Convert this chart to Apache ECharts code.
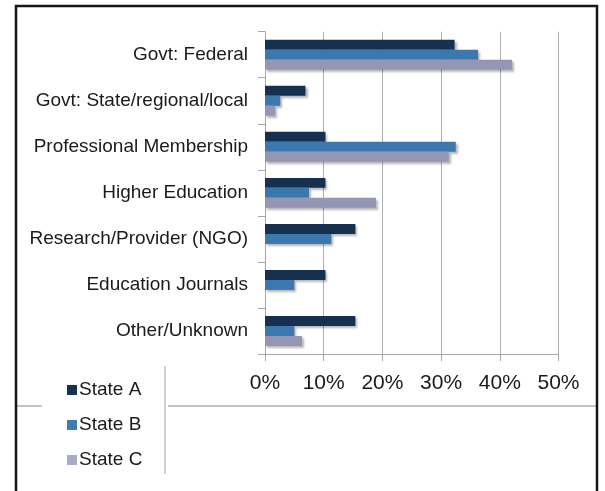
<!DOCTYPE html>
<html>
<head>
<meta charset="utf-8">
<script src="https://cdn.jsdelivr.net/npm/echarts@6/dist/echarts.min.js"></script>
<style>
html,body{margin:0;padding:0;background:#fff;}
#chart{width:605px;height:491px;}
</style>
</head>
<body>
<div id="chart"></div>
<script>
const categories = ["Govt: Federal","Govt: State/regional/local","Professional Membership","Higher Education","Research/Provider (NGO)","Education Journals","Other/Unknown"];
const stateA = [32.3, 6.9, 10.3, 10.3, 15.4, 10.3, 15.4];
const stateB = [36.3, 2.6, 32.5, 7.5, 11.3, 5.0, 5.0];
const stateC = [42.1, 1.7, 31.3, 18.9, 0, 0, 6.3];
const seriesNames = ["State A","State B","State C"];
const colors = ["#16304f","#3a78ad","#9496b4"];
const legendColors = ["#16304f","#3a7cb3","#a8aac6"];

const font = "'Liberation Sans', Arial, sans-serif";
const chart = echarts.init(document.getElementById('chart'));
const shadow = {shadowColor:'rgba(0,0,0,0.28)', shadowBlur:2, shadowOffsetX:2, shadowOffsetY:2};
const mk = (name, data, color) => ({
  name, type:'bar', data, barGap:'0%', barCategoryGap:'35%',
  itemStyle: Object.assign({color}, shadow), silent:true
});
chart.setOption({
  animation:false,
  textStyle:{fontFamily:font},
  grid:{left:265, right:46.5, top:31.7, bottom:137, containLabel:false},
  xAxis:{
    type:'value', min:0, max:50, interval:10,
    axisLine:{show:true, lineStyle:{color:'#a8a8a8', width:1}},
    axisTick:{show:true, length:7, lineStyle:{color:'#a8a8a8'}},
    axisLabel:{formatter:'{value}%', fontSize:21, color:'#1a1a1a', margin:19, fontFamily:font},
    splitLine:{show:true, lineStyle:{color:'#b0b0b0', width:1}}
  },
  yAxis:{
    type:'category', data:categories, inverse:true,
    axisLine:{show:true, lineStyle:{color:'#a8a8a8', width:1}},
    axisTick:{show:true, length:7, alignWithLabel:false, lineStyle:{color:'#a8a8a8'}},
    axisLabel:{fontSize:19, color:'#1a1a1a', margin:17, fontFamily:font}
  },
  legend:{
    orient:'vertical', left:62, top:375,
    itemWidth:10, itemHeight:10, itemGap:15,
    icon:'rect',
    textStyle:{fontSize:19, color:'#1a1a1a', lineHeight:20, fontFamily:font, padding:[0,0,0,-3]},
    data:seriesNames.map((n,i)=>({name:n, itemStyle:{color:legendColors[i], shadowBlur:0, shadowOffsetX:0, shadowOffsetY:0}}))
  },
  graphic:[
    {type:'line', shape:{x1:16, y1:406, x2:42, y2:406}, style:{stroke:'#b0b0b0', lineWidth:1.5}},
    {type:'line', shape:{x1:168, y1:406, x2:597, y2:406}, style:{stroke:'#b0b0b0', lineWidth:1.5}},
    {type:'line', shape:{x1:165, y1:366, x2:165, y2:474}, style:{stroke:'#b0b0b0', lineWidth:1.2}},
    {type:'rect', shape:{x:16, y:6, width:581, height:520}, style:{fill:null, stroke:'#151515', lineWidth:2.5}}
  ],
  series:[
    mk(seriesNames[0], stateA, colors[0]),
    mk(seriesNames[1], stateB, colors[1]),
    mk(seriesNames[2], stateC, colors[2])
  ]
});
</script>
</body>
</html>
